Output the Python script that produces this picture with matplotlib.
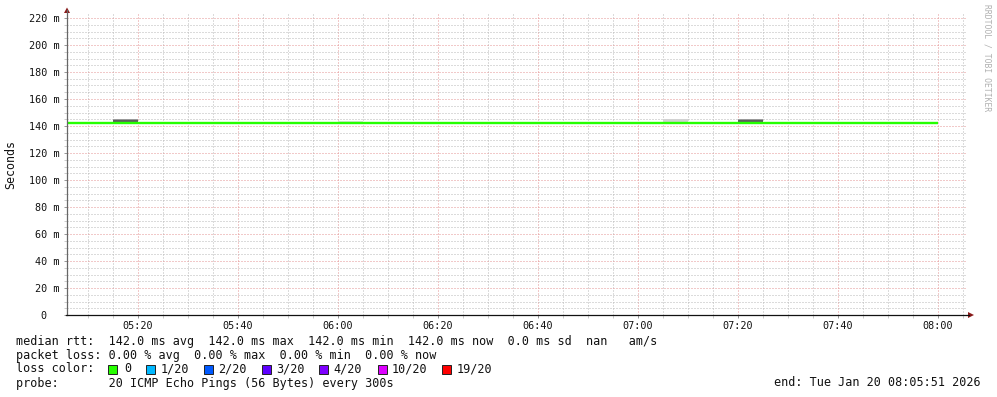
import matplotlib
matplotlib.use("Agg")
import matplotlib.pyplot as plt
from matplotlib.ticker import MultipleLocator, FuncFormatter
from matplotlib.patches import Polygon, Rectangle
from matplotlib.lines import Line2D

W, H = 997, 397

# ---------------- data ----------------
def hm(s):
    h, m = s.split(":")
    return int(h) * 60 + int(m)

start_time = "05:05:51"
end_time = "08:05:51"

median_times = ["05:05", "05:10", "05:15", "05:20", "05:25", "05:30", "05:35", "05:40",
                "05:45", "05:50", "05:55", "06:00", "06:05", "06:10", "06:15", "06:20",
                "06:25", "06:30", "06:35", "06:40", "06:45", "06:50", "06:55", "07:00",
                "07:05", "07:10", "07:15", "07:20", "07:25", "07:30", "07:35", "07:40",
                "07:45", "07:50", "07:55", "08:00"]
median_ms = [142.0, 142.0, 142.0, 142.0, 142.0, 142.0, 142.0, 142.0,
             142.0, 142.0, 142.0, 142.0, 142.0, 142.0, 142.0, 142.0,
             142.0, 142.0, 142.0, 142.0, 142.0, 142.0, 142.0, 142.0,
             142.0, 142.0, 142.0, 142.0, 142.0, 142.0, 142.0, 142.0,
             142.0, 142.0, 142.0, 142.0]

smoke_start = ["05:15", "05:15", "06:00", "06:25", "07:05", "07:20", "07:20"]
smoke_low = [142.0, 144.3, 142.0, 142.0, 142.0, 142.0, 144.3]
smoke_high = [144.3, 145.0, 143.8, 143.1, 145.4, 144.3, 145.0]
smoke_color = ["#5e5e5e", "#9a9a9a", "#e0e0e0", "#ececec", "#d2d2d2", "#5e5e5e", "#9a9a9a"]

y_ticks = [0, 20, 40, 60, 80, 100, 120, 140, 160, 180, 200, 220]
y_tick_labels = ["0  ", "20 m", "40 m", "60 m", "80 m", "100 m", "120 m", "140 m",
                 "160 m", "180 m", "200 m", "220 m"]

loss_labels = ["0", "1/20", "2/20", "3/20", "4/20", "10/20", "19/20"]
loss_colors = ["#26ff00", "#00b8ff", "#0059ff", "#5e00ff", "#7e00ff", "#dd00ff", "#ff0000"]

legend_lines = [
    "median rtt:  142.0 ms avg  142.0 ms max  142.0 ms min  142.0 ms now  0.0 ms sd  nan   am/s",
    "packet loss: 0.00 % avg  0.00 % max  0.00 % min  0.00 % now",
    "loss color:",
    "probe:       20 ICMP Echo Pings (56 Bytes) every 300s",
]
end_text = "end: Tue Jan 20 08:05:51 2026"

# ---------------- figure ----------------
plt.rcParams["lines.scale_dashes"] = False
fig = plt.figure(figsize=(W / 100, H / 100), dpi=100)
fig.patch.set_facecolor("white")

px_l, px_r, px_t, px_b = 67, 967, 13, 315
ax = fig.add_axes([px_l / W, 1 - px_b / H, (px_r - px_l) / W, (px_b - px_t) / H])
ax.set_facecolor("white")

t0 = hm(start_time[:5]) + int(start_time[6:]) / 60
t1 = hm(end_time[:5]) + int(end_time[6:]) / 60
ax.set_xlim(t0, t1)
ymax = (px_b - px_t) / 1.35
ax.set_ylim(0, ymax)

for s in ax.spines.values():
    s.set_visible(False)

ax.xaxis.set_major_locator(MultipleLocator(20))
ax.xaxis.set_minor_locator(MultipleLocator(5))
ax.xaxis.set_major_formatter(FuncFormatter(lambda v, p: "%02d:%02d" % (int(round(v)) // 60, int(round(v)) % 60)))
ax.set_yticks(y_ticks)
ax.set_yticklabels(y_tick_labels)
ax.yaxis.set_minor_locator(MultipleLocator(5))

mono = "DejaVu Sans Mono"
for lab in ax.get_xticklabels() + ax.get_yticklabels():
    lab.set_fontfamily(mono)
    lab.set_fontsize(7.3)
    lab.set_color("#111111")

ax.tick_params(axis="both", which="major", length=2.5, width=0.72, color="#999999")
ax.tick_params(axis="both", which="minor", length=2.0, width=0.72, color="#cccccc")
ax.tick_params(axis="y", which="major", pad=2.9)
ax.tick_params(axis="x", which="major", pad=2.0)

ax.set_axisbelow(True)
dots = (0, (0.72, 1.44))
ax.grid(which="minor", color="#b8b8b8", linestyle=dots, linewidth=0.72)
ax.grid(which="major", color="#e49494", linestyle=dots, linewidth=0.72)

# smoke
for s, lo, hi, c in zip(smoke_start, smoke_low, smoke_high, smoke_color):
    ax.bar(hm(s), hi - lo, bottom=lo, width=5, align="edge", color=c, linewidth=0, zorder=2)

# median line
mt = [hm(t) for t in median_times]
ax.plot(mt, median_ms, drawstyle="steps-post", color="#26ff00", linewidth=1.7, zorder=3,
        solid_capstyle="butt")

# axes lines and arrows (pixel coords)
def fx(x):
    return x / W

def fy(y):
    return 1 - y / H

fig.add_artist(Line2D([fx(px_l), fx(px_l)], [fy(px_b), fy(10)], color="#666666", lw=0.9))
fig.add_artist(Line2D([fx(px_l - 1), fx(969)], [fy(px_b), fy(px_b)], color="#111111", lw=0.9))
fig.add_artist(Polygon([[fx(64), fy(13)], [fx(70), fy(13)], [fx(67), fy(7.5)]],
                       closed=True, color="#8b1a1a", lw=0))
fig.add_artist(Polygon([[fx(968), fy(312)], [fx(968), fy(318)], [fx(974), fy(315)]],
                       closed=True, color="#8b1a1a", lw=0))

# y label
fig.text(fx(11), fy(164), "Seconds", rotation=90, fontfamily=mono, fontsize=8.4,
         color="#111111", ha="center", va="center")

# watermark
fig.text(fx(987), fy(4), "RRDTOOL / TOBI OETIKER", rotation=270, fontfamily=mono,
         fontsize=5.8, color="#b0b0b0", ha="center", va="top")

# legend text
fs = 8.48
rows_y = [341, 355, 369, 383]
for txt, yy in zip(legend_lines, rows_y):
    fig.text(fx(16), fy(yy), txt, fontfamily=mono, fontsize=fs, color="#111111",
             ha="left", va="center")

box_x = [108.3, 145.7, 203.7, 261.7, 319.3, 377.7, 442.3]
lab_x = [124, 160.7, 218, 276, 333, 392, 457]
for bx, lx, lab, c in zip(box_x, lab_x, loss_labels, loss_colors):
    fig.add_artist(Rectangle((fx(bx), fy(374)), 9 / W, 9 / H, facecolor=c,
                             edgecolor="#222222", linewidth=0.7))
    fig.text(fx(lx), fy(369), lab, fontfamily=mono, fontsize=fs, color="#111111",
             ha="left", va="center")

fig.text(fx(981), fy(383), end_text, fontfamily=mono, fontsize=fs, color="#111111",
         ha="right", va="center")

fig.savefig("out.png", dpi=100, facecolor="white")
